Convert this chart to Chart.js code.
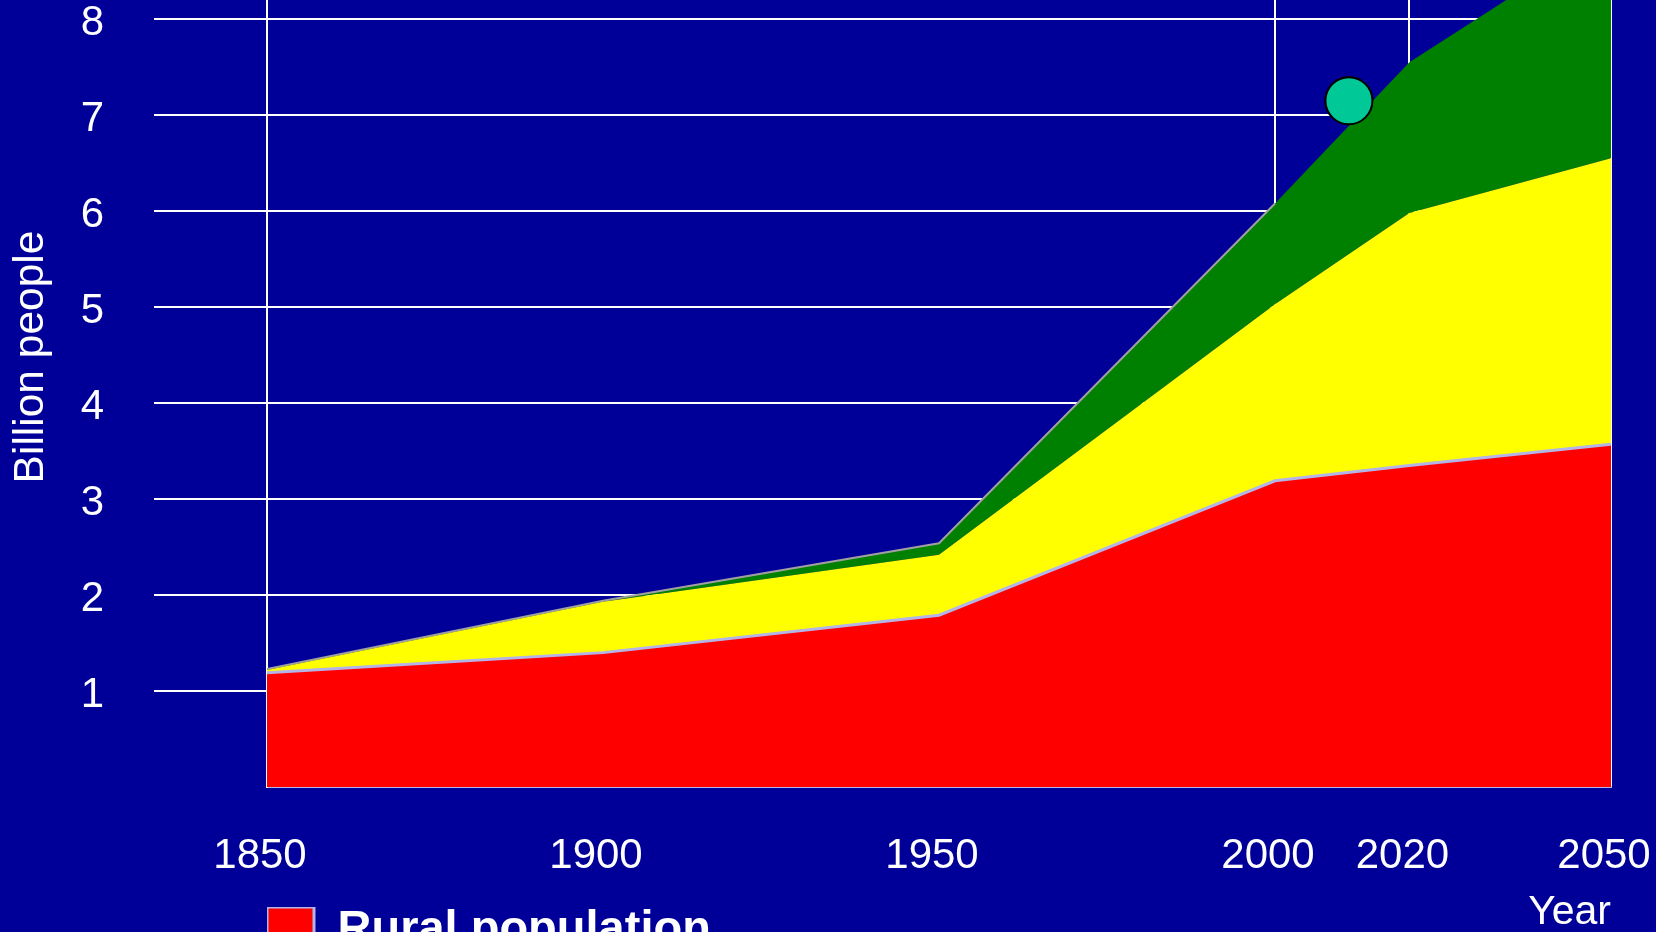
<!DOCTYPE html>
<html>
<head>
<meta charset="utf-8">
<title>World population</title>
<script src="https://cdn.jsdelivr.net/npm/chart.js@4/dist/chart.umd.min.js"></script>
<style>
  html, body { margin: 0; padding: 0; background: #000099; overflow: hidden; }
  /* the plot runs off the top and the legend off the bottom of the page */
  canvas { display: block; margin-top: -73px; }
</style>
</head>
<body>
<canvas id="popChart" width="1656" height="1037"></canvas>
<script>
const years = [1850, 1900, 1950, 2000, 2020, 2050];
const rural = [1.19, 1.40, 1.79, 3.19, 3.35, 3.57];
const urban = [0.03, 0.53, 0.63, 1.84, 2.63, 2.98];
const urbanLarge = [0.01, 0.01, 0.12, 1.05, 1.57, 2.35];
const currentYear = [2011];
const currentPop = [7.15];

const yTicks = [1, 2, 3, 4, 5, 6, 7, 8];
const xTicks = [1850, 1900, 1950, 2000, 2020, 2050];
const xGridYears = [1850, 2000, 2020, 2050];

const WHITE = '#ffffff';
const LAVENDER = '#b4b4e8';

Chart.defaults.font.family = '"Liberation Sans", Arial, sans-serif';
Chart.defaults.color = WHITE;

const points = vals => years.map((yr, i) => ({ x: yr, y: vals[i] }));

// redraw the marker after the grid so lines don't cross it
const markerOnTop = {
  id: 'markerOnTop',
  afterDraw(chart) {
    chart.getDatasetMeta(3).data.forEach(pt => pt.draw(chart.ctx));
  }
};

const ctx = document.getElementById('popChart').getContext('2d');

const popChart = new Chart(ctx, {
  type: 'line',
  data: {
    datasets: [{
      label: 'Rural population',
      data: points(rural),
      backgroundColor: '#ff0000',
      borderColor: LAVENDER,
      borderWidth: 3,
      fill: 'origin',
      pointRadius: 0,
      stack: 'pop'
    }, {
      label: 'Urban population',
      data: points(urban),
      backgroundColor: '#ffff00',
      borderWidth: 0,
      fill: '-1',
      pointRadius: 0,
      stack: 'pop'
    }, {
      label: 'Urban population, large cities',
      data: points(urbanLarge),
      backgroundColor: '#008000',
      borderColor: '#a0a0a0',
      borderWidth: 2,
      fill: '-1',
      pointRadius: 0,
      stack: 'pop',
      segment: {
        borderColor: c => c.p0.parsed.x >= 2000 ? 'transparent' : undefined
      }
    }, {
      label: 'World population today',
      data: currentYear.map((yr, i) => ({ x: yr, y: currentPop[i] })),
      showLine: false,
      pointRadius: 23.5,
      pointBackgroundColor: '#00c896',
      pointBorderColor: '#000000',
      pointBorderWidth: 2,
      stack: 'marker'
    }]
  },
  options: {
    responsive: false,
    devicePixelRatio: 1,
    animation: false,
    layout: {
      autoPadding: false,
      padding: { top: 0, right: 45, bottom: 0, left: 0 }
    },
    plugins: {
      tooltip: { enabled: false },
      legend: {
        position: 'bottom',
        align: 'start',
        fullSize: false,
        labels: {
          filter: item => item.datasetIndex === 0,
          color: WHITE,
          font: { size: 47, weight: 'bold' },
          boxWidth: 47,
          boxHeight: 47,
          padding: 0
        }
      }
    },
    scales: {
      x: {
        type: 'linear',
        min: 1850,
        max: 2050,
        z: 1,
        afterBuildTicks: s => { s.ticks = xTicks.map(v => ({ value: v })); },
        afterFit: s => {
          s.height = 120;
          s.paddingLeft = 0;
          s.paddingRight = 0;
          s.paddingTop = 0;
          s.paddingBottom = 0;
        },
        grid: {
          color: c => xGridYears.includes(c.tick && c.tick.value) ? WHITE : 'transparent',
          lineWidth: 2,
          drawTicks: false
        },
        border: { display: true, color: LAVENDER, width: 2 },
        ticks: {
          color: WHITE,
          font: { size: 42 },
          padding: 44,
          labelOffset: -7,
          autoSkip: false,
          maxRotation: 0,
          callback: v => String(v)
        },
        title: {
          display: true,
          text: 'Year',
          align: 'end',
          color: WHITE,
          font: { size: 41 },
          padding: { top: 0, bottom: -30 }
        }
      },
      y: {
        min: 0,
        max: 8.96,
        stacked: true,
        z: 1,
        afterBuildTicks: s => { s.ticks = yTicks.map(v => ({ value: v })); },
        afterFit: s => {
          s.width = 267;
          s.paddingLeft = 0;
          s.paddingRight = 0;
          s.paddingTop = 0;
          s.paddingBottom = 0;
        },
        grid: {
          color: WHITE,
          tickColor: WHITE,
          lineWidth: 2,
          drawTicks: true,
          tickLength: 113
        },
        border: { display: true, color: WHITE, width: 2 },
        ticks: {
          color: WHITE,
          font: { size: 42 },
          padding: 50,
          labelOffset: 4
        },
        title: {
          display: true,
          text: 'Billion people',
          color: WHITE,
          font: { size: 42.5 },
          padding: { top: 6, bottom: 0 }
        }
      }
    }
  },
  plugins: [markerOnTop]
});
</script>
</body>
</html>
